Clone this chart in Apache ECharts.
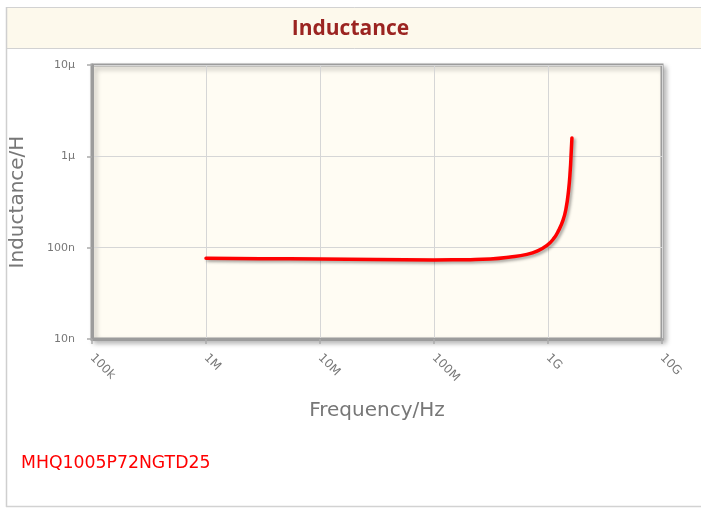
<!DOCTYPE html>
<html>
<head>
<meta charset="utf-8">
<script src="https://cdn.jsdelivr.net/npm/echarts@6/dist/echarts.min.js"></script>
<style>
html,body{margin:0;padding:0;background:#fff;}
#chart{width:701px;height:509px;}
</style>
</head>
<body>
<div id="chart"></div>
<script>
// ---- data ----
var chartTitle = 'Inductance';
var partName = 'MHQ1005P72NGTD25';
var xAxisName = 'Frequency/Hz';
var yAxisName = 'Inductance/H';
var xTickLabels = ['100k', '1M', '10M', '100M', '1G', '10G'];   // 1e5 .. 1e10
var yTickLabels = ['10n', '100n', '1\u00b5', '10\u00b5'];        // 1e-8 .. 1e-5
var freqHz = [1e6, 3e6, 1e7, 3e7, 1e8, 2.09e8, 3.13e8, 4.68e8, 6.54e8, 8.02e8, 9.8e8,
              1.12e9, 1.239e9, 1.353e9, 1.438e9, 1.515e9, 1.567e9, 1.599e9, 1.622e9];
var inductanceNH = [76.5, 75.8, 75, 74.2, 73.5, 73.9, 75.0, 78.9, 84.5, 91.8, 106,
                    125.4, 154.5, 198.7, 266.6, 423, 700, 1120, 1590];

var seriesData = freqHz.map(function (f, i) { return [f, inductanceNH[i] * 1e-9]; });

var chart = echarts.init(document.getElementById('chart'));
var option = {
  animation: false,
  backgroundColor: '#ffffff',
  title: {
    text: chartTitle,
    left: 'center',
    top: 14,
    textStyle: { fontFamily: 'Open Sans', fontWeight: 'bold', fontSize: 21, color: '#9b2421' }
  },
  graphic: [
    { type: 'rect', z: 0, silent: true, shape: { x: 6.5, y: 7.5, width: 700, height: 41 },
      style: { fill: '#fdf9ec', stroke: '#d2d2d2', lineWidth: 1 } },
    { type: 'line', z: 0, silent: true, shape: { x1: 6.5, y1: 7, x2: 6.5, y2: 507 },
      style: { stroke: '#cfcfcf', lineWidth: 1.5 } },
    { type: 'line', z: 0, silent: true, shape: { x1: 6, y1: 506.5, x2: 701, y2: 506.5 },
      style: { stroke: '#d2d2d2', lineWidth: 1.5 } },
    { type: 'text', z: 5, silent: true, left: 21, top: 455,
      style: { text: partName, fill: '#ff0000', font: '17.3px "DejaVu Sans"' } }
  ],
  grid: {
    left: 91, top: 65, width: 571, height: 274,
    show: true,
    backgroundColor: '#fffcf3',
    borderColor: '#9c9c9c',
    borderWidth: 3,
    shadowColor: 'rgba(0,0,0,0.25)',
    shadowBlur: 5,
    shadowOffsetX: 3,
    shadowOffsetY: 3
  },
  xAxis: {
    type: 'log',
    logBase: 10,
    min: 1e5,
    max: 1e10,
    splitNumber: 5,
    name: xAxisName,
    nameLocation: 'middle',
    nameGap: 62,
    nameTextStyle: { fontFamily: 'DejaVu Sans', fontSize: 20, color: '#777777' },
    axisLine: { show: true, lineStyle: { color: '#9c9c9c', width: 3 } },
    axisTick: { show: true, length: 5, lineStyle: { color: '#aaaaaa', width: 1.5 } },
    axisLabel: {
      rotate: -45,
      margin: 17,
      fontFamily: 'DejaVu Sans',
      fontSize: 12,
      color: '#777777',
      formatter: function (v) {
        var i = Math.round(Math.log10(v)) - 5;
        return xTickLabels[i] !== undefined ? xTickLabels[i] : '';
      }
    },
    splitLine: { show: true, lineStyle: { color: '#d6d6d6', width: 1 } },
    minorTick: { show: false },
    minorSplitLine: { show: false }
  },
  yAxis: {
    type: 'log',
    logBase: 10,
    min: 1e-8,
    max: 1e-5,
    splitNumber: 3,
    name: yAxisName,
    nameLocation: 'middle',
    nameGap: 64,
    nameTextStyle: { fontFamily: 'DejaVu Sans', fontSize: 20, color: '#777777' },
    axisLine: { show: true, lineStyle: { color: '#9c9c9c', width: 3 } },
    axisTick: { show: true, length: 5, lineStyle: { color: '#aaaaaa', width: 1.5 } },
    axisLabel: {
      margin: 17,
      fontFamily: 'DejaVu Sans',
      fontSize: 11,
      color: '#777777',
      formatter: function (v) {
        var i = Math.round(Math.log10(v)) + 8;
        return yTickLabels[i] !== undefined ? yTickLabels[i] : '';
      }
    },
    splitLine: { show: true, lineStyle: { color: '#d6d6d6', width: 1 } }
  },
  series: [{
    type: 'line',
    data: seriesData,
    showSymbol: false,
    smooth: 0.5,
    clip: false,
    lineStyle: {
      color: '#ff0000',
      width: 3.5,
      cap: 'round',
      join: 'round',
      shadowColor: 'rgba(0,0,0,0.35)',
      shadowBlur: 3,
      shadowOffsetX: 2,
      shadowOffsetY: 2
    }
  }]
};
chart.setOption(option);
</script>
</body>
</html>
